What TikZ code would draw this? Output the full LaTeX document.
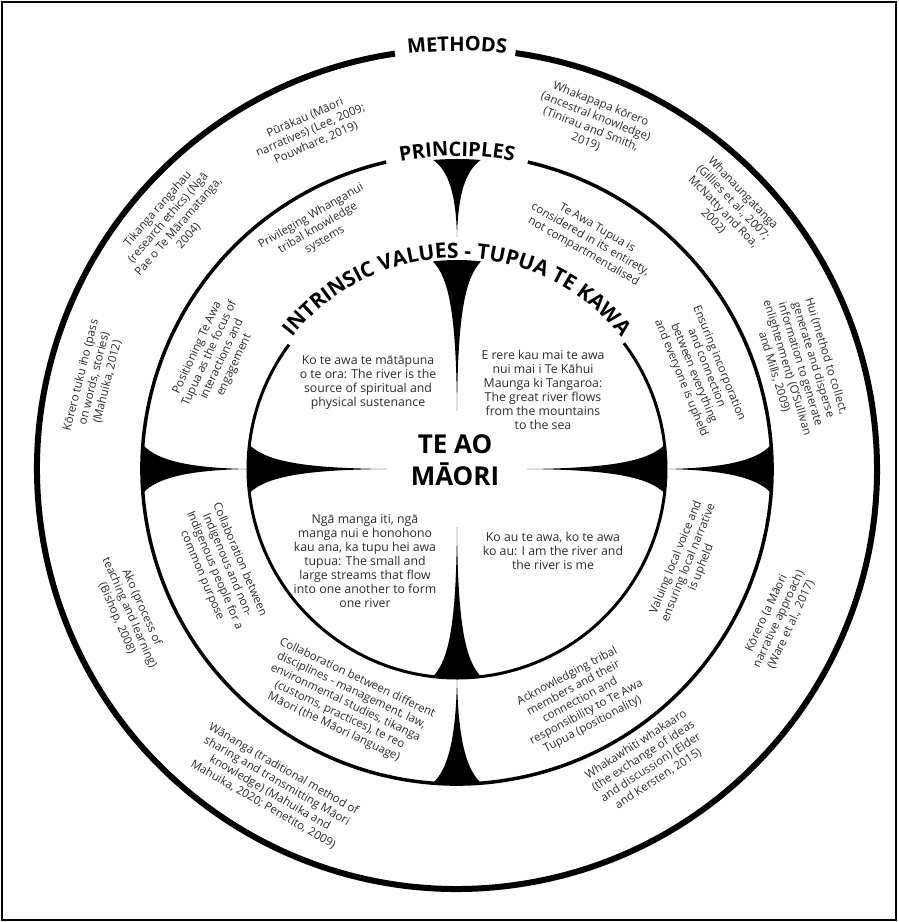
\documentclass[tikz,border=0pt]{standalone}
\usepackage{fontspec}
\setmainfont{Open Sans}
\usetikzlibrary{decorations.text}
\definecolor{txtgray}{HTML}{2A2A2A}

\tikzset{
  ringtxt/.style={align=center, inner sep=0.75pt, text=txtgray, font=\fontsize{11.5}{13.6}\selectfont},
  valuetxt/.style={align=center, inner sep=0.75pt, text=txtgray, font=\fontsize{12.3}{14}\selectfont},
  bigtitle/.style={align=center, inner sep=0pt, font=\bfseries\fontsize{26}{32}\selectfont},
  circline/.style={line width=#1, black},
}

\begin{document}
\begin{tikzpicture}[x=1pt,y=1pt]
\useasboundingbox (-457,-453) rectangle (441,469);
\draw [line width=1.2] (-455,-451) rectangle (439,467);

% circles with gaps for the labels
\draw [circline=6]   (98.5:420) arc[start angle=98.5, end angle=442, radius=420];
\draw [circline=3.5] (103:315) arc[start angle=103, end angle=437, radius=315];
\draw [circline=3]   (143.5:209) arc[start angle=143.5, end angle=397, radius=209];

% curved labels
\path [decorate, decoration={text along path, text align=center,
  text={|\bfseries\fontsize{20}{20}\selectfont|METHODS}}]
  (110:418) arc[start angle=110, end angle=70, radius=418];
\path [decorate, decoration={text along path, text align=center,
  text={|\bfseries\fontsize{20}{20}\selectfont|PRINCIPLES}}]
  (115:313) arc[start angle=115, end angle=65, radius=313];
\path [decorate, decoration={text along path, text align=center,
  text={|\bfseries\fontsize{21}{21}\selectfont|INTRINSIC VALUES - TUPUA TE KAWA}}]
  (165:211) arc[start angle=165, end angle=15, radius=211];

% spikes in the principles ring
\foreach \ang in {0,180,270}{
  \begin{scope}[rotate=\ang]
    \fill (4.4:315) .. controls (300,8.4) and (267,1) .. (209,0)
      .. controls (267,-1) and (300,-8.4) .. (-4.4:315)
      arc[start angle=-4.4, end angle=4.4, radius=315] -- cycle;
  \end{scope}
}
\begin{scope}[rotate=90]
  \fill (4.4:310) .. controls (298,8.4) and (275,1) .. (232,0)
    .. controls (275,-1) and (298,-8.4) .. (-4.4:310)
    arc[start angle=-4.4, end angle=4.4, radius=310] -- cycle;
\end{scope}

% spikes inside the intrinsic circle
\foreach \ang/\tip in {0/70,90/58,180/70,270/58}{
  \begin{scope}[rotate=\ang]
    \fill (6.6:209) .. controls (191,8.4) and (157,0.8) .. (\tip,0)
      .. controls (157,-0.8) and (191,-8.4) .. (-6.6:209)
      arc[start angle=-6.6, end angle=6.6, radius=209] -- cycle;
  \end{scope}
}

% centre
\node (teao) [bigtitle] at (-2,9) {TE AO\\MĀORI};

% intrinsic values
\node (val1) [valuetxt] at (-89,86) {Ko te awa te mātāpuna\\o te ora: The river is the\\source of spiritual and\\physical sustenance};
\node (val2) [valuetxt] at (86,79) {E rere kau mai te awa\\nui mai i Te Kāhui\\Maunga ki Tangaroa:\\The great river flows\\from the mountains\\to the sea};
\node (val3) [valuetxt] at (-92,-92) {Ngā manga iti, ngā\\manga nui e honohono\\kau ana, ka tupu hei awa\\tupua: The small and\\large streams that flow\\into one another to form\\one river};
\node (val4) [valuetxt] at (96,-82) {Ko au te awa, ko te awa\\ko au: I am the river and\\the river is me};

% principles
\node (pri1) [ringtxt, rotate=30] at (120:278) {Privileging Whanganui\\tribal knowledge\\systems};
\node (pri2) [ringtxt, rotate=-30] at (59.8:265) {Te Awa Tupua is\\considered in its entirety,\\not compartmentalised};
\node (pri3) [ringtxt, rotate=65] at (155:266) {Positioning Te Awa\\Tupua as the focus of\\interactions and\\engagement};
\node (pri4) [ringtxt, rotate=-68] at (22:262) {Ensuring incorporation\\and connection\\between everything\\and everyone is upheld};
\node (pri5) [ringtxt, rotate=-67] at (202.7:256) {Collaboration between\\Indigenous and non-\\Indigenous people for a\\common purpose};
\node (pri6) [ringtxt, rotate=68] at (-22:250) {Valuing local voice and\\ensuring local narrative\\is upheld};
\node (pri7) [ringtxt, rotate=-25.5] at (244.5:259) {Collaboration between different\\disciplines - management, law,\\environmental studies, tikanga\\(customs, practices), te reo\\Māori (the Māori language)};
\node (pri8) [ringtxt, rotate=28] at (-62:262) {Acknowledging tribal\\members and their\\connection and\\responsibility to Te Awa\\Tupua (positionality)};

% methods
\node (met1) [ringtxt, rotate=23.4] at (113.4:369) {Pūrākau (Māori\\narratives) (Lee, 2009;\\Pouwhare, 2019)};
\node (met2) [ringtxt, rotate=-21.5] at (68.5:372) {Whakapapa kōrero\\(ancestral knowledge)\\(Tinirau and Smith,\\2019)};
\node (met3) [ringtxt, rotate=49] at (139:376) {Tikanga rangahau\\(research ethics) (Ngā\\Pae o Te Māramatanga,\\2004)};
\node (met4) [ringtxt, rotate=-46] at (44:377) {Whanaungatanga\\(Gillies et al., 2007;\\McNatty and Roa,\\2002)};
\node (met5) [ringtxt, rotate=76] at (166:374) {Kōrero tuku iho (pass\\on words, stories)\\(Mahuika, 2012)};
\node (met6) [ringtxt, rotate=-73] at (17:359) {Hui (method to collect,\\generate and disperse\\information to generate\\enlightenment) (O’Sullivan\\and Mills, 2009)};
\node (met7) [ringtxt, rotate=-66.3] at (203.7:358) {Ako (process of\\teaching and learning)\\(Bishop, 2008)};
\node (met8) [ringtxt, rotate=65] at (-25:355) {Kōrero (a Māori\\narrative approach)\\(Ware et al., 2017)};
\node (met9) [ringtxt, rotate=-30] at (240:367) {Wānanga (traditional method of\\sharing and transmitting Māori\\knowledge) (Mahuika and\\Mahuika, 2020; Penetito, 2009)};
\node (met10) [ringtxt, rotate=33] at (-57:349) {Whakawhiti whakaaro\\(the exchange of ideas\\and discussion) (Elder\\and Kersten, 2015)};

\end{tikzpicture}
\end{document}
